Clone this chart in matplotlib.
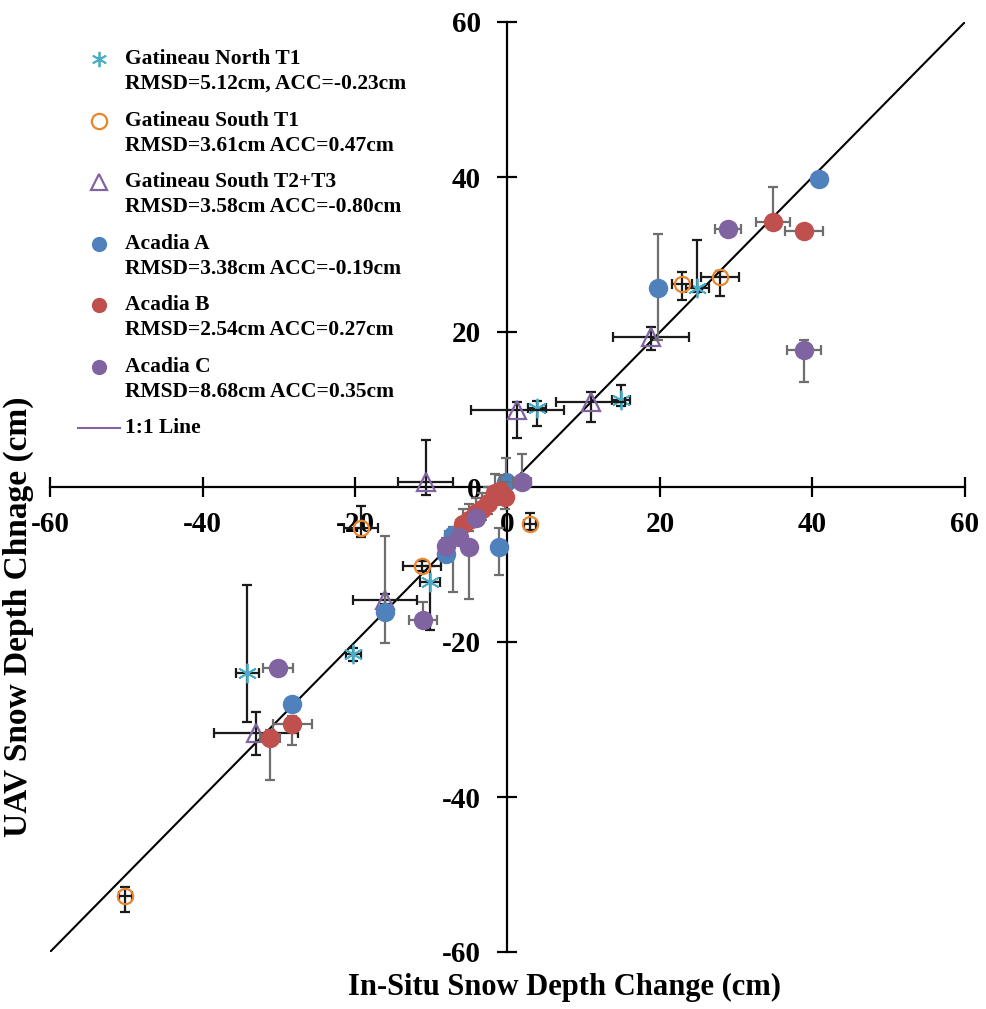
import matplotlib
matplotlib.use("Agg")
import matplotlib.pyplot as plt
from matplotlib.lines import Line2D

plt.rcParams['font.family'] = ['Liberation Serif', 'DejaVu Serif']
plt.rcParams['font.weight'] = 'bold'

# ---- data (cm) ----
gn_x = [24.9, 14.9, 3.85, -10.2, -20.2, -34.1]
gn_y = [25.7, 11.2, 10.15, -12.2, -21.6, -24.0]
gn_xerr = [1.5, 1.2, 1.2, 1.3, 1.0, 1.5]
gn_ylo = [0.5, 0.8, 2.3, 6.3, 0.8, 6.3]
gn_yhi = [6.2, 2.0, 0.9, 2.0, 0.8, 11.4]

gs_x = [27.9, 22.9, 2.9, -11.2, -19.2, -50.1]
gs_y = [27.1, 26.2, -4.8, -10.2, -5.3, -52.8]
gs_xerr = [2.5, 1.3, 0.8, 2.5, 2.2, 0.8]
gs_ylo = [2.5, 2.1, 0.7, 0.7, 1.1, 2.0]
gs_yhi = [0.8, 1.6, 1.4, 0.7, 2.8, 1.2]

gt_x = [18.8, 10.9, 1.3, -10.7, -16.1, -33.0]
gt_y = [19.4, 11.0, 9.9, 0.7, -14.6, -31.8]
gt_xerr = [5.0, 4.5, 6.1, 3.6, 4.2, 5.5]
gt_ylo = [1.7, 2.6, 3.6, 1.7, 0.5, 2.8]
gt_yhi = [1.3, 1.3, 1.1, 5.4, 0.8, 2.8]

aa_x = [40.9, 19.8, -0.2, -1.1, -7.2, -8.0, -16.1, -28.2]
aa_y = [39.8, 25.7, 0.7, -7.8, -6.2, -8.6, -16.1, -28.0]
aa_xerr = [1.0, 0.5, 0.8, 0.8, 1.0, 1.0, 0.8, 0.8]
aa_ylo = [0.5, 6.7, 1.5, 3.6, 7.3, 1.0, 4.0, 0.5]
aa_yhi = [0.5, 6.9, 3.0, 2.5, 1.0, 1.0, 9.8, 0.5]

ab_x = [34.8, 38.9, -28.2, -31.2, -0.3, -1.0, -1.6, -2.6, -3.4, -4.1, -5.0, -5.9]
ab_y = [34.2, 33.0, -30.6, -32.4, -1.3, -0.5, -0.8, -2.0, -2.8, -3.4, -4.2, -4.8]
ab_xerr = [2.2, 2.5, 2.5, 1.3, 0.6, 0.6, 1.0, 0.8, 0.8, 0.8, 0.8, 0.8]
ab_ylo = [0.5, 0.5, 2.7, 5.4, 1.5, 1.5, 1.5, 1.5, 1.5, 1.5, 1.5, 1.5]
ab_yhi = [4.5, 0.5, 1.0, 1.0, 2.0, 2.0, 2.5, 2.0, 2.0, 2.0, 2.0, 2.0]

ac_x = [28.9, 38.9, -30.1, -11.1, 1.9, -4.1, -6.3, -8.1, -5.1]
ac_y = [33.3, 17.7, -23.4, -17.2, 0.6, -4.0, -6.4, -7.6, -7.8]
ac_xerr = [1.7, 2.2, 2.0, 1.8, 1.2, 0.8, 0.8, 0.8, 0.8]
ac_ylo = [0.5, 4.2, 0.3, 0.5, 0.5, 1.0, 1.0, 1.0, 6.6]
ac_yhi = [0.5, 1.3, 0.3, 2.4, 3.7, 1.0, 1.0, 1.0, 1.0]

labels = ["Gatineau North T1\nRMSD=5.12cm, ACC=-0.23cm",
          "Gatineau South T1\nRMSD=3.61cm ACC=0.47cm",
          "Gatineau South T2+T3\nRMSD=3.58cm ACC=-0.80cm",
          "Acadia A\nRMSD=3.38cm ACC=-0.19cm",
          "Acadia B\nRMSD=2.54cm ACC=0.27cm",
          "Acadia C\nRMSD=8.68cm ACC=0.35cm",
          "1:1 Line"]

ticks = [-60, -40, -20, 0, 20, 40, 60]

C_CYAN = '#4BACC6'
C_ORANGE = '#E8862E'
C_PURPLE = '#8064A2'
C_BLUE = '#4F81BD'
C_RED = '#C0504D'
E_DARK = '#1a1a1a'
E_GREY = '#6e6e6e'

W, H = 986, 1009
fig = plt.figure(figsize=(W / 100, H / 100), dpi=100)
ax = fig.add_axes([50 / W, 57 / H, 915 / W, 930 / H])

ax.set_xlim(-60, 60)
ax.set_ylim(-60, 60)

# 1:1 reference line
ax.plot([-60, 60], [-60, 60], color='black', lw=1.5, zorder=2)

# (x, y, xerr, yerr low, yerr high, marker style, legend marker size, error colour)
series = [
    (gn_x, gn_y, gn_xerr, gn_ylo, gn_yhi,
     dict(marker=(6, 2, 0), ms=14, mec=C_CYAN, mfc=C_CYAN, mew=1.3), 11, E_DARK),
    (gs_x, gs_y, gs_xerr, gs_ylo, gs_yhi,
     dict(marker='o', ms=11, mec=C_ORANGE, mfc='none', mew=1.6), 11, E_DARK),
    (gt_x, gt_y, gt_xerr, gt_ylo, gt_yhi,
     dict(marker='^', ms=13, mec=C_PURPLE, mfc='none', mew=1.6), 11, E_DARK),
    (aa_x, aa_y, aa_xerr, aa_ylo, aa_yhi,
     dict(marker='o', ms=14, mec=C_BLUE, mfc=C_BLUE, mew=0), 11, E_GREY),
    (ab_x, ab_y, ab_xerr, ab_ylo, ab_yhi,
     dict(marker='o', ms=14, mec=C_RED, mfc=C_RED, mew=0), 11, E_GREY),
    (ac_x, ac_y, ac_xerr, ac_ylo, ac_yhi,
     dict(marker='o', ms=14, mec=C_PURPLE, mfc=C_PURPLE, mew=0), 11, E_GREY),
]

z = 3
for xs, ys, xe, ylo, yhi, mk, _, ecol in series:
    ax.errorbar(xs, ys, xerr=xe, yerr=[ylo, yhi], fmt='none', ecolor=ecol,
                elinewidth=1.6, capsize=3.5, capthick=1.6, zorder=z)
    ax.plot(xs, ys, linestyle='none', zorder=z + 0.5, **mk)
    z += 1

# axes crossing at the origin
for side in ['top', 'right']:
    ax.spines[side].set_visible(False)
ax.spines['left'].set_position(('data', 0))
ax.spines['bottom'].set_position(('data', 0))
for side in ['left', 'bottom']:
    ax.spines[side].set_linewidth(1.6)
    ax.spines[side].set_zorder(1)
ax.set_xticks(ticks)
ax.set_yticks(ticks)
ax.set_xticklabels([str(t) for t in ticks])
ax.set_yticklabels([str(t) for t in ticks])
ax.tick_params(axis='both', direction='inout', length=14, width=1.6,
               labelsize=21)
ax.tick_params(axis='x', pad=10)
ax.tick_params(axis='y', pad=12)
for lab in ax.get_xticklabels() + ax.get_yticklabels():
    lab.set_fontweight('bold')

# axis titles
fig.text(565 / W, 1 - 987 / H, "In-Situ Snow Depth Change (cm)",
         ha='center', va='center', fontsize=22, fontweight='bold')
fig.text(18 / W, 1 - 617 / H, "UAV Snow Depth Chnage (cm)", rotation=90,
         ha='center', va='center', fontsize=24, fontweight='bold')

# legend
row_y = [59, 121, 182, 244, 305, 367]
for (xs, ys, xe, ylo, yhi, mk, lms, ecol), ry, lab in zip(series, row_y, labels):
    style = dict(mk)
    style['ms'] = lms
    fig.add_artist(Line2D([99 / W], [1 - ry / H], linestyle='none',
                          transform=fig.transFigure, **style))
    first, second = lab.split('\n')
    fig.text(125 / W, 1 - ry / H, first, ha='left', va='center',
             fontsize=15.5, fontweight='bold')
    fig.text(125 / W, 1 - (ry + 25) / H, second, ha='left', va='center',
             fontsize=15.5, fontweight='bold')
fig.add_artist(Line2D([78 / W, 120 / W], [1 - 428 / H, 1 - 428 / H],
                      color=C_PURPLE, lw=1.5, transform=fig.transFigure))
fig.text(125 / W, 1 - 428 / H, labels[-1], ha='left', va='center',
         fontsize=15.5, fontweight='bold')

fig.savefig('out.png', dpi=100)
